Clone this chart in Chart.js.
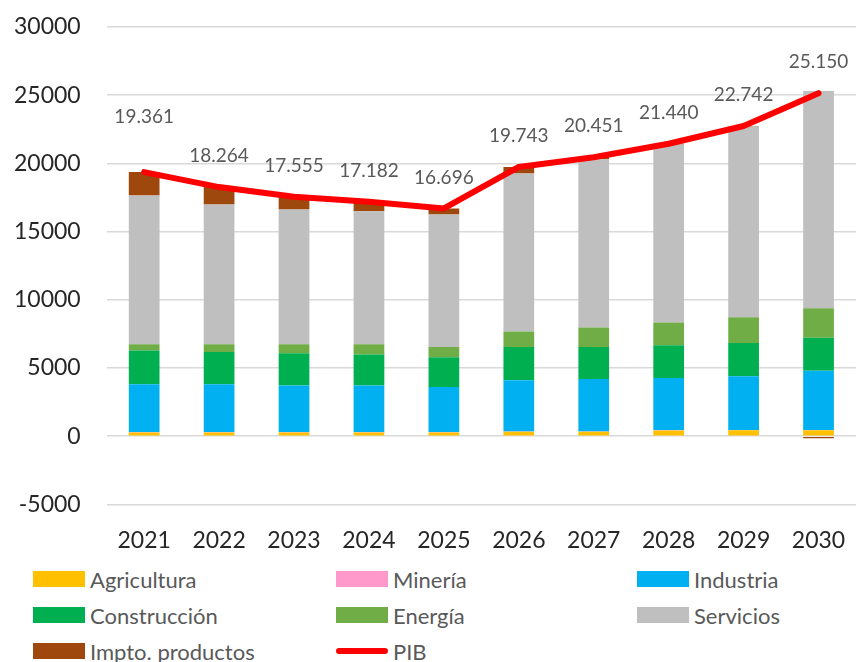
<!DOCTYPE html>
<html>
<head>
<meta charset="utf-8">
<script src="https://cdn.jsdelivr.net/npm/chart.js@4.4.1/dist/chart.umd.min.js"></script>
<style>
  html, body { margin: 0; padding: 0; background: #fff; }
  #wrap { position: relative; width: 861px; height: 662px; }
  #chart { position: absolute; left: 0; top: 0; }
  #legend { position: absolute; left: 0; top: 562px; width: 861px; font-family: Lato, sans-serif; font-size: 22px; color: #595959; }
  .item { position: absolute; height: 34px; display: flex; align-items: center; white-space: nowrap; }
  .sw { width: 52px; height: 16px; margin-right: 5px; }
  .ln { width: 52px; height: 6px; border-radius: 3px; margin-right: 5px; }
</style>
</head>
<body>
<div id="wrap">
  <canvas id="chart" width="861" height="560"></canvas>
  <div id="legend"></div>
</div>
<script>
// ── data ──
const years = ["2021", "2022", "2023", "2024", "2025", "2026", "2027", "2028", "2029", "2030"];
const agricultura = [280, 280, 280, 280, 280, 330, 330, 420, 440, 440];
const mineria = [20, 20, 20, 20, 20, 20, 20, 40, 20, 20];
const industria = [3510, 3510, 3415, 3415, 3315, 3755, 3850, 3815, 3940, 4330];
const construccion = [2470, 2370, 2370, 2275, 2175, 2440, 2345, 2395, 2440, 2420];
const energia = [460, 560, 655, 750, 755, 1130, 1420, 1665, 1885, 2175];
const servicios = [10901, 10244, 9875, 9752, 9705, 11578, 12336, 13055, 13987, 15915];
const impuestos = [1720, 1280, 940, 690, 446, 490, 150, 50, 30, -150];
const pib = [19361, 18264, 17555, 17182, 16696, 19743, 20451, 21440, 22742, 25150];
const yTicks = [-5000, 0, 5000, 10000, 15000, 20000, 25000, 30000];

const FONT = "Lato, 'Open Sans', sans-serif";

const bar = (label, data, color) => ({
  type: "bar", label, data, backgroundColor: color, stack: "va",
  barPercentage: 0.41, categoryPercentage: 1, order: 2,
});

// labels over the PIB line, es-ES thousands separator
const pibLabels = {
  id: "pibLabels",
  afterDatasetsDraw(chart) {
    const meta = chart.getDatasetMeta(7);
    const ctx = chart.ctx;
    ctx.save();
    ctx.font = "19px " + FONT;
    ctx.fillStyle = "#595959";
    ctx.textAlign = "center";
    ctx.textBaseline = "middle";
    meta.data.forEach((pt, i) => {
      const txt = pib[i].toLocaleString("de-DE");
      const lift = i === 0 ? 55 : 31;
      ctx.fillText(txt, pt.x, pt.y - lift);
    });
    ctx.restore();
  },
};

const chart = new Chart(document.getElementById("chart"), {
  data: {
    labels: years,
    datasets: [
      bar("Agricultura", agricultura, "#FFC000"),
      bar("Minería", mineria, "#FF99CC"),
      bar("Industria", industria, "#00B0F0"),
      bar("Construcción", construccion, "#00B050"),
      bar("Energía", energia, "#70AD47"),
      bar("Servicios", servicios, "#BFBFBF"),
      bar("Impto. productos", impuestos, "#9E480E"),
      {
        type: "line", label: "PIB", data: pib, stack: "pib", order: 1,
        borderColor: "#FF0000", borderWidth: 6, pointRadius: 0,
        tension: 0, borderCapStyle: "round", borderJoinStyle: "round",
      },
    ],
  },
  options: {
    responsive: false,
    animation: false,
    layout: { padding: { left: 10, right: 5, top: 27, bottom: 4 } },
    plugins: { legend: { display: false }, tooltip: { enabled: false } },
    scales: {
      x: {
        stacked: true,
        grid: { display: false, drawTicks: true, tickLength: 20, tickColor: "transparent" },
        border: { display: false },
        ticks: { color: "#262626", font: { family: FONT, size: 23 }, padding: 2 },
      },
      y: {
        stacked: true,
        min: -5000, max: 30000,
        afterBuildTicks: (s) => { s.ticks = yTicks.map((v) => ({ value: v })); },
        grid: { color: "#D9D9D9", lineWidth: 1.5, drawTicks: true, tickLength: 22, tickColor: "transparent" },
        border: { display: false },
        ticks: { color: "#262626", font: { family: FONT, size: 23 }, padding: 4, callback: (v) => String(v) },
      },
    },
  },
  plugins: [pibLabels],
});

// ── legend in three columns ──
const cols = [33, 336, 637];
const rowH = 36;
const legend = document.getElementById("legend");
chart.data.datasets.forEach((ds, i) => {
  const item = document.createElement("div");
  item.className = "item";
  item.style.left = cols[i % 3] + "px";
  item.style.top = Math.floor(i / 3) * rowH + "px";
  const sw = document.createElement("span");
  if (ds.type === "line") {
    sw.className = "ln";
    sw.style.background = ds.borderColor;
  } else {
    sw.className = "sw";
    sw.style.background = ds.backgroundColor;
  }
  item.appendChild(sw);
  item.appendChild(document.createTextNode(ds.label));
  legend.appendChild(item);
});
</script>
</body>
</html>
